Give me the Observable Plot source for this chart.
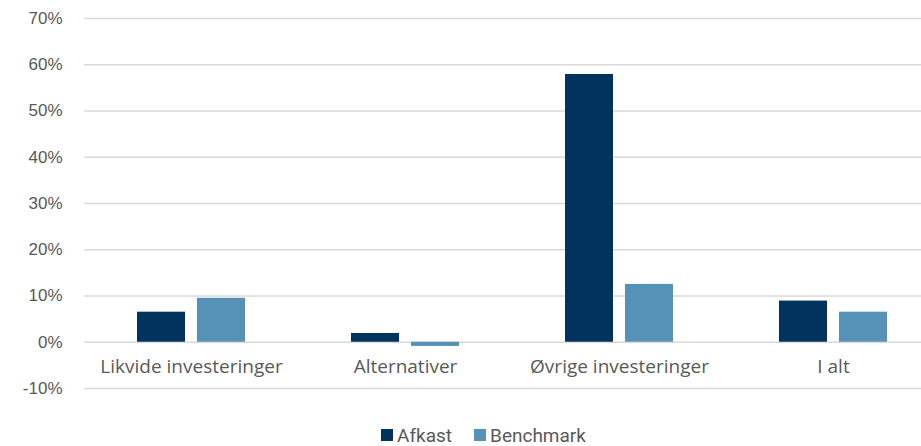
<!DOCTYPE html>
<html>
<head>
<meta charset="utf-8">
<script src="https://cdn.jsdelivr.net/npm/d3@7"></script>
<script src="https://cdn.jsdelivr.net/npm/@observablehq/plot@0.6"></script>
<style>
  html, body { margin: 0; padding: 0; background: #fff; overflow: hidden; }
  #legend { display: flex; justify-content: center; align-items: center; gap: 22px; height: 22px;
    font-family: Roboto, "Liberation Sans", sans-serif; font-size: 19px; color: #595959; padding-left: 46px; }
  #legend span.item { display: inline-flex; align-items: center; }
  #legend span.sw { display: inline-block; width: 12px; height: 12px; margin-right: 4px; }
</style>
</head>
<body>
<div id="chart"></div>
<div id="legend"></div>
<script>
const categories = ["Likvide investeringer", "Alternativer", "Øvrige investeringer", "I alt"];
const afkast = [0.065, 0.019, 0.579, 0.089];
const benchmark = [0.095, -0.009, 0.125, 0.065];
const seriesNames = ["Afkast", "Benchmark"];
const seriesColors = ["#02335f", "#5692b8"];
const yTicks = [-0.1, 0, 0.1, 0.2, 0.3, 0.4, 0.5, 0.6, 0.7];

const data = [];
categories.forEach((c, i) => {
  data.push({category: c, series: "Afkast", value: afkast[i]});
  data.push({category: c, series: "Benchmark", value: benchmark[i]});
});

const W = 921, H = 424;
const chart = Plot.plot({
  width: W,
  height: H,
  marginTop: 18,
  marginBottom: 36,
  marginLeft: 84,
  marginRight: 0,
  style: {fontFamily: "'Liberation Sans', Arial, sans-serif", fontSize: "17px", color: "#595959", background: "#fff"},
  x: {domain: categories, range: [84, 940], padding: 0},
  y: {domain: [-0.1, 0.7]},
  color: {domain: seriesNames, range: seriesColors},
  marks: [
    Plot.ruleY(yTicks, {stroke: "#d9d9d9", strokeWidth: 1.5}),
    Plot.barY(data.filter(d => d.series === "Afkast"), {x: "category", y: "value", fill: "series", insetLeft: 83, insetRight: 83, dx: -30}),
    Plot.barY(data.filter(d => d.series === "Benchmark"), {x: "category", y: "value", fill: "series", insetLeft: 83, insetRight: 83, dx: 30}),
    Plot.axisY({ticks: yTicks, tickFormat: d => Math.round(d * 100) + "%", tickSize: 0, tickPadding: 22, label: null, fontSize: 17}),
    Plot.axisX({tickSize: 0, tickPadding: 0, dy: -29, label: null, fontFamily: "'Open Sans', sans-serif", fontSize: 19})
  ]
});
document.getElementById("chart").appendChild(chart);

const legend = document.getElementById("legend");
seriesNames.forEach((s, i) => {
  const item = document.createElement("span");
  item.className = "item";
  const sw = document.createElement("span");
  sw.className = "sw";
  sw.style.background = seriesColors[i];
  item.appendChild(sw);
  item.appendChild(document.createTextNode(s));
  legend.appendChild(item);
});
</script>
</body>
</html>
